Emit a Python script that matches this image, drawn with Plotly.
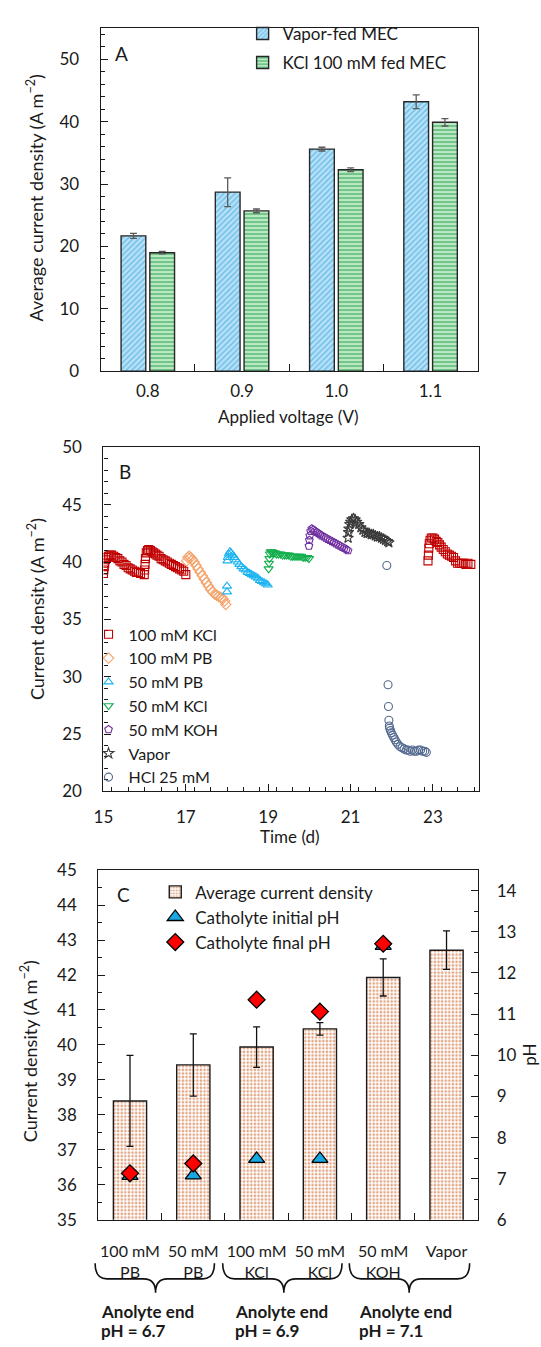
import plotly.graph_objects as go

W, H = 541, 1347
FONT = "Lato"
TXT = "#1a1a1a"

# ---------------- Panel A data ----------------
voltages = ["0.8", "0.9", "1.0", "1.1"]
vapor_mean = [21.7, 28.7, 35.6, 43.2]
vapor_err = [0.4, 2.3, 0.3, 1.1]
kcl_mean = [19.0, 25.7, 32.3, 39.9]
kcl_err = [0.2, 0.3, 0.3, 0.6]

# ---------------- Panel B data ----------------
kcl100_t = [15.00, 15.01, 15.02, 15.03, 15.05, 15.08, 15.12, 15.16, 15.20, 15.25, 15.30, 15.35,
            15.40, 15.45, 15.50, 15.55, 15.60, 15.65, 15.70, 15.75, 15.80, 15.85, 15.90,
            15.99, 16.00, 16.01, 16.02, 16.04, 16.07, 16.10, 16.14, 16.18, 16.22, 16.26, 16.30,
            16.35, 16.40, 16.45, 16.50, 16.55, 16.60, 16.65, 16.70, 16.75, 16.80, 16.85, 16.90,
            16.95, 17.00,
            22.88, 22.89, 22.90, 22.91, 22.93, 22.96, 23.00, 23.04, 23.08, 23.12, 23.16, 23.20,
            23.25, 23.30, 23.35, 23.40, 23.45, 23.50, 23.55, 23.60, 23.65, 23.70, 23.75, 23.80,
            23.85, 23.92]
kcl100_v = [39.0, 39.3, 39.6, 39.9, 40.2, 40.4, 40.5, 40.6, 40.6, 40.5, 40.4, 40.3,
            40.1, 40.0, 39.8, 39.7, 39.5, 39.4, 39.3, 39.2, 39.1, 39.1, 39.0,
            38.9, 39.3, 39.8, 40.3, 40.8, 41.0, 41.1, 41.0, 40.9, 40.8, 40.7, 40.6,
            40.5, 40.3, 40.2, 40.1, 40.0, 39.9, 39.8, 39.7, 39.6, 39.5, 39.4, 39.3,
            39.2, 38.9,
            40.1, 40.6, 41.2, 41.6, 41.9, 42.1, 42.1, 42.0, 41.8, 41.7, 41.5, 41.3,
            41.1, 40.9, 40.7, 40.6, 40.5, 40.4, 40.1, 39.9, 39.9, 39.9, 39.9, 39.8,
            39.9, 39.8]

pb100_t = [17.02, 17.05, 17.08, 17.12, 17.16, 17.20, 17.25, 17.30, 17.35, 17.40, 17.45,
           17.50, 17.55, 17.60, 17.65, 17.70, 17.75, 17.80, 17.85, 17.90, 17.94, 17.97]
pb100_v = [40.1, 40.4, 40.5, 40.4, 40.2, 40.0, 39.7, 39.4, 39.1, 38.8, 38.5,
           38.2, 37.9, 37.6, 37.4, 37.2, 37.1, 37.0, 36.9, 36.8, 36.6, 36.3]

pb50_t = [18.00, 18.00, 18.01, 18.02, 18.04, 18.07, 18.10, 18.14, 18.18, 18.22, 18.26, 18.30,
          18.35, 18.40, 18.45, 18.50, 18.55, 18.60, 18.65, 18.70, 18.75, 18.80, 18.85, 18.90,
          18.95, 18.99]
pb50_v = [37.4, 37.9, 40.1, 40.4, 40.7, 40.9, 40.8, 40.6, 40.4, 40.2, 40.0, 39.8,
          39.6, 39.4, 39.3, 39.1, 39.0, 38.9, 38.8, 38.7, 38.6, 38.4, 38.3, 38.2,
          38.1, 38.0]

kcl50_t = [19.01, 19.02, 19.03, 19.04, 19.06, 19.09, 19.12, 19.16, 19.20, 19.25, 19.30, 19.35,
           19.40, 19.45, 19.50, 19.55, 19.60, 19.65, 19.70, 19.75, 19.80, 19.85, 19.90, 19.95,
           19.99]
kcl50_v = [39.4, 39.9, 40.3, 40.7, 40.9, 40.9, 40.8, 40.8, 40.7, 40.7, 40.7, 40.6,
           40.6, 40.6, 40.6, 40.5, 40.5, 40.5, 40.5, 40.5, 40.5, 40.4, 40.4, 40.4,
           40.3]

koh50_t = [19.99, 20.00, 20.01, 20.03, 20.06, 20.10, 20.14, 20.18, 20.22, 20.26, 20.30, 20.35,
           20.40, 20.45, 20.50, 20.55, 20.60, 20.65, 20.70, 20.75, 20.80, 20.85, 20.90, 20.94]
koh50_v = [41.4, 41.9, 42.3, 42.7, 42.9, 42.8, 42.7, 42.6, 42.5, 42.4, 42.3, 42.2,
           42.1, 42.0, 41.9, 41.8, 41.7, 41.6, 41.5, 41.4, 41.3, 41.2, 41.1, 41.0]

vapor_t = [20.94, 20.95, 20.96, 20.98, 21.00, 21.03, 21.07, 21.11, 21.15, 21.20, 21.25, 21.30,
           21.35, 21.40, 21.45, 21.50, 21.55, 21.60, 21.65, 21.70, 21.75, 21.80, 21.85, 21.90,
           21.93]
vapor_v = [42.1, 42.6, 42.9, 43.3, 43.5, 43.7, 43.8, 43.7, 43.5, 43.3, 43.0, 42.8,
           42.6, 42.5, 42.5, 42.4, 42.4, 42.3, 42.2, 42.2, 42.1, 42.0, 41.9, 41.8,
           41.7]

hcl_t = [21.88, 21.91, 21.92, 21.93, 21.94, 21.95, 21.97, 21.99, 22.02, 22.05, 22.08, 22.11,
         22.15, 22.20, 22.25, 22.30, 22.35, 22.40, 22.45, 22.50, 22.55, 22.60, 22.65, 22.70,
         22.75, 22.80, 22.84]
hcl_v = [39.7, 29.3, 27.4, 26.2, 25.7, 25.5, 25.3, 25.1, 24.9, 24.7, 24.5, 24.3,
         24.1, 23.9, 23.8, 23.7, 23.6, 23.6, 23.5, 23.6, 23.5, 23.5, 23.6, 23.6,
         23.5, 23.5, 23.4]

# ---------------- Panel C data ----------------
c_cats = ["100 mM<br>PB", "50 mM<br>PB", "100 mM<br>KCl", "50 mM<br>KCl", "50 mM<br>KOH", "Vapor"]
c_mean = [38.40, 39.43, 39.94, 40.46, 41.93, 42.71]
c_err = [1.30, 0.89, 0.58, 0.18, 0.53, 0.55]
ph_cats = c_cats[:5]
ph_init = [7.07, 7.08, 7.48, 7.48, 12.66]
ph_final = [7.13, 7.37, 11.35, 11.06, 12.71]
group_line1 = ["Anolyte end", "Anolyte end", "Anolyte end"]
group_line2 = ["pH = 6.7", "pH = 6.9", "pH = 7.1"]


def px_x(p):
    return p / W


def px_y(p):
    return 1 - p / H


fig = go.Figure()

# Panel A
fig.add_trace(go.Bar(
    x=voltages, y=vapor_mean, name="Vapor-fed MEC", xaxis="x", yaxis="y",
    error_y=dict(type="data", array=vapor_err, color="#595959", thickness=1.3, width=3.5),
    marker=dict(color="#B3DFF7", line=dict(color="#262626", width=1.4),
                pattern=dict(shape="/", fgcolor="#2F9ED9", bgcolor="#B8E2F8", size=4, solidity=0.4)),
    legend="legend", legendgroup="a1"))
fig.add_trace(go.Bar(
    x=voltages, y=kcl_mean, name="KCl 100 mM fed MEC", xaxis="x", yaxis="y",
    error_y=dict(type="data", array=kcl_err, color="#595959", thickness=1.3, width=3.5),
    marker=dict(color="#C4ECCB", line=dict(color="#262626", width=1.4),
                pattern=dict(shape="-", fgcolor="#1C9F44", bgcolor="#C4ECCB", size=4, solidity=0.55)),
    legend="legend", legendgroup="a2"))

# Panel B
series_b = [
    ("100 mM KCl", kcl100_t, kcl100_v, "square-open", "#C00000"),
    ("100 mM PB", pb100_t, pb100_v, "diamond-open", "#F4A46C"),
    ("50 mM PB", pb50_t, pb50_v, "triangle-up-open", "#1DB4F0"),
    ("50 mM KCl", kcl50_t, kcl50_v, "triangle-down-open", "#12AE4C"),
    ("50 mM KOH", koh50_t, koh50_v, "pentagon-open", "#7030A0"),
    ("Vapor", vapor_t, vapor_v, "star-open", "#3A3A3A"),
    ("HCl 25 mM", hcl_t, hcl_v, "circle-open", "#52688F"),
]
for i, (nm, t, v, sym, col) in enumerate(series_b):
    fig.add_trace(go.Scatter(
        x=t, y=v, mode="markers", name=nm, xaxis="x2", yaxis="y2",
        marker=dict(symbol=sym, size=8, color=col, line=dict(width=1.1, color=col)),
        legend="legend2"))

# Panel C
fig.add_trace(go.Bar(
    x=c_cats, y=c_mean, name="Average current density", xaxis="x3", yaxis="y3",
    error_y=dict(type="data", array=c_err, color="#111111", thickness=1.3, width=3.5),
    marker=dict(color="#F4B68C", line=dict(color="#1a1a1a", width=1.4),
                pattern=dict(shape=".", fgcolor="#C44C08", bgcolor="#FFFFFF", size=3.6, solidity=0.42)),
    legend="legend3", legendgroup="c1"))
fig.add_trace(go.Scatter(
    x=ph_cats, y=ph_init, mode="markers", name="Catholyte initial pH", xaxis="x3", yaxis="y4",
    marker=dict(symbol="triangle-up", size=14, color="#18A7E0", line=dict(color="black", width=1.3)),
    legend="legend3", legendgroup="c2"))
fig.add_trace(go.Scatter(
    x=ph_cats, y=ph_final, mode="markers", name="Catholyte final pH", xaxis="x3", yaxis="y4",
    marker=dict(symbol="diamond", size=13, color="#FF0000", line=dict(color="black", width=1.3)),
    legend="legend3", legendgroup="c3"))

axis_common = dict(showline=True, linecolor="#1a1a1a", linewidth=1.3, mirror=True,
                   showgrid=False, zeroline=False, ticks="inside", ticklen=7, tickwidth=1.2,
                   tickcolor="#1a1a1a", tickfont=dict(family=FONT, size=17, color=TXT))
minor_c = dict(ticks="inside", ticklen=4, tickcolor="#1a1a1a", tickwidth=1.1)

fig.update_layout(
    width=W, height=H, margin=dict(l=0, r=0, t=0, b=0),
    paper_bgcolor="white", plot_bgcolor="white",
    font=dict(family=FONT, size=17, color=TXT),
    barmode="group", bargap=0.39, bargroupgap=0.14,
    xaxis=dict(axis_common, domain=[px_x(92.4), px_x(476.5)], anchor="y", type="category",
               tickson="boundaries", ticklabelstandoff=4),
    yaxis=dict(axis_common, domain=[px_y(366), px_y(17.3)], anchor="x", range=[0, 55], dtick=10,
               minor=dict(minor_c, dtick=2), ticklabelstandoff=17),
    xaxis2=dict(axis_common, domain=[px_x(95.2), px_x(477.9)], anchor="y2", range=[15, 24.12],
                tick0=15, dtick=2, minor=dict(minor_c, dtick=0.4), ticklabelstandoff=10),
    yaxis2=dict(axis_common, domain=[px_y(792.7), px_y(443.3)], anchor="x2", range=[20, 50], dtick=5,
                minor=dict(minor_c, dtick=1), ticklabelstandoff=17),
    xaxis3=dict(axis_common, domain=[px_x(90), px_x(477)], anchor="y3", type="category",
                tickson="boundaries", tickangle=0, ticklabelstandoff=17,
                tickfont=dict(family=FONT, size=16, color=TXT)),
    yaxis3=dict(axis_common, domain=[px_y(1228), px_y(872.7)], anchor="x3", range=[35, 45], dtick=1,
                minor=dict(minor_c, dtick=0.5), ticklabelstandoff=17),
    yaxis4=dict(axis_common, overlaying="y3", side="right", anchor="x3", range=[6, 14.5],
                tickvals=[6, 7, 8, 9, 10, 11, 12, 13, 14],
                minor=dict(minor_c, dtick=0.5), ticklabelstandoff=14),
    legend=dict(x=px_x(237), y=px_y(5), xanchor="left", yanchor="top", bgcolor="rgba(0,0,0,0)",
                font=dict(family=FONT, size=17, color=TXT), tracegroupgap=4),
    legend2=dict(x=px_x(80), y=px_y(616), xanchor="left", yanchor="top", bgcolor="rgba(0,0,0,0)",
                 font=dict(family=FONT, size=16, color=TXT), tracegroupgap=0),
    legend3=dict(x=px_x(148), y=px_y(877), xanchor="left", yanchor="top", bgcolor="rgba(0,0,0,0)",
                 font=dict(family=FONT, size=17, color=TXT), tracegroupgap=0),
)

ann = []


def add_text(txt, x, y, size=17, angle=0, xanchor="center", bold=False):
    ann.append(dict(text=("<b>%s</b>" % txt) if bold else txt, x=px_x(x), y=px_y(y),
                    xref="paper", yref="paper", showarrow=False, borderpad=0,
                    textangle=angle, xanchor=xanchor, yanchor="middle",
                    font=dict(family=FONT, size=size, color=TXT)))


add_text("A", 114, 42.7, size=19)
add_text("B", 117.6, 468.3, size=19)
add_text("C", 116, 897.3, size=19)
add_text("Average current density (A m<sup>\u22122</sup>)", 26, 190, size=18, angle=-90)
add_text("Applied voltage (V)", 283.7, 412, size=17)
add_text("Current density (A m<sup>\u22122</sup>)", 26, 608, size=18, angle=-90)
add_text("Time (d)", 285.5, 838.3, size=17)
add_text("Current density (A m<sup>\u22122</sup>)", 19, 1057, size=18, angle=-90)
add_text("pH", 529, 1060, size=17, angle=-90)
for l1, l2, xl in zip(group_line1, group_line2, [92, 228, 354.7]):
    add_text(l1, xl, 1321, size=17, xanchor="left", bold=True)
    add_text(l2, xl, 1340, size=17, xanchor="left", bold=True)
fig.update_layout(annotations=ann)


# curly braces under the category groups
def brace(x0, x1, xm, ytop, ymid, ybot, r=12):
    pts = lambda x, y: "%.5f,%.5f" % (px_x(x), px_y(y))
    return ("M " + pts(x0, ytop) + " Q " + pts(x0, ymid) + " " + pts(x0 + r, ymid) +
            " L " + pts(xm - r, ymid) + " Q " + pts(xm, ymid) + " " + pts(xm, ybot) +
            " Q " + pts(xm, ymid) + " " + pts(xm + r, ymid) +
            " L " + pts(x1 - r, ymid) + " Q " + pts(x1, ymid) + " " + pts(x1, ytop))


shapes = []
for (x0, x1, xm) in [(86.7, 208.3, 148.3), (216.7, 338.3, 279), (345.7, 468.3, 406.7)]:
    shapes.append(dict(type="path", xref="paper", yref="paper", path=brace(x0, x1, xm, 1272, 1288, 1302),
                       line=dict(color="#111111", width=1.6)))
fig.update_layout(shapes=shapes)

fig.write_html("out.html")
